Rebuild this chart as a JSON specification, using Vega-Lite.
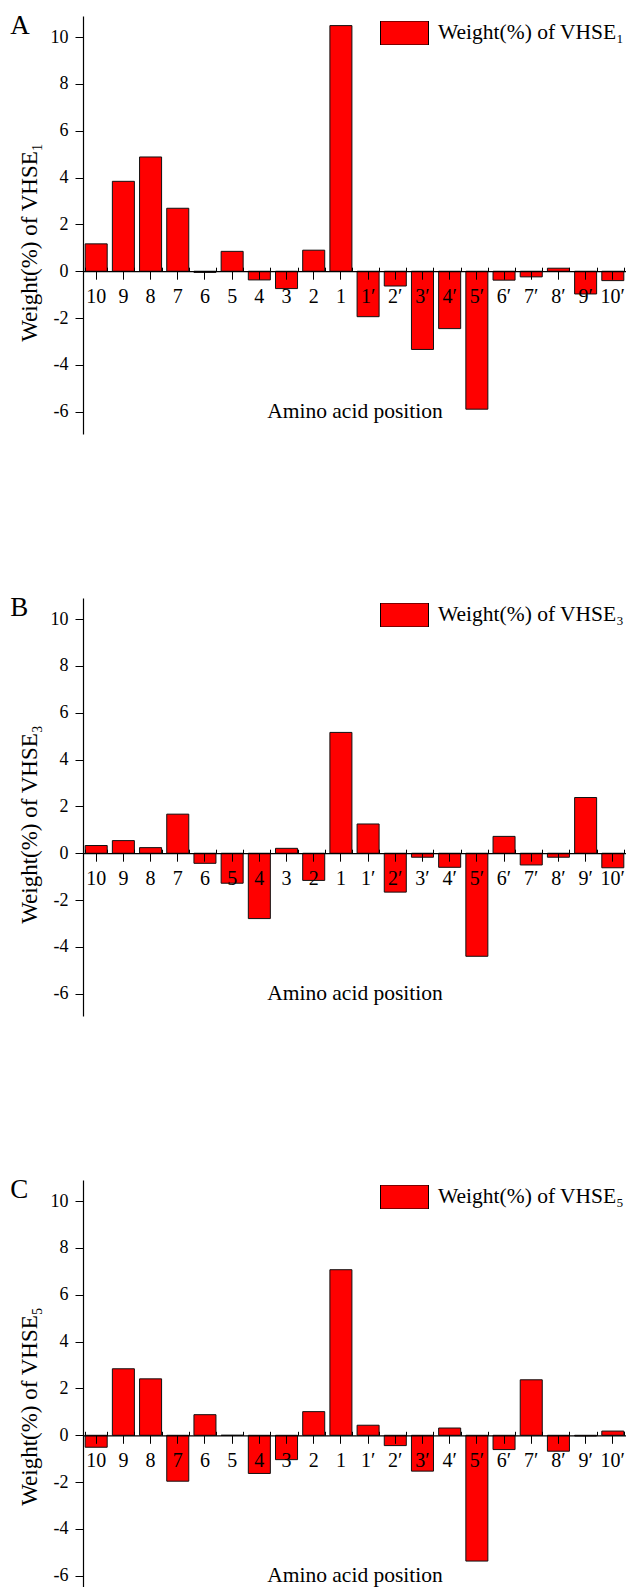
{
  "$schema": "https://vega.github.io/schema/vega-lite/v6.json",
  "background": "white",
  "padding": {"left": 10, "top": 12, "right": 0, "bottom": 0},
  "spacing": 160,
  "resolve": {"scale": {"color": "independent"}, "legend": {"color": "independent"}},
  "config": {"view": {"stroke": null}, "font": "Liberation Serif", "axis": {"grid": false}},
  "vconcat": [
    {
      "width": 543, "height": 418,
      "data": {"values": [
        {"pos": "10", "value": 1.17}, {"pos": "9", "value": 3.84}, {"pos": "8", "value": 4.88}, {"pos": "7", "value": 2.69},
        {"pos": "6", "value": -0.05}, {"pos": "5", "value": 0.85}, {"pos": "4", "value": -0.37}, {"pos": "3", "value": -0.74},
        {"pos": "2", "value": 0.9}, {"pos": "1", "value": 10.49}, {"pos": "1′", "value": -1.94}, {"pos": "2′", "value": -0.63},
        {"pos": "3′", "value": -3.34}, {"pos": "4′", "value": -2.45}, {"pos": "5′", "value": -5.89}, {"pos": "6′", "value": -0.38},
        {"pos": "7′", "value": -0.24}, {"pos": "8′", "value": 0.13}, {"pos": "9′", "value": -0.97}, {"pos": "10′", "value": -0.4}
      ]},
      "layer": [
        {
          "mark": {"type": "bar", "stroke": "#111", "strokeWidth": 1},
          "encoding": {
            "x": {"field": "pos", "type": "nominal", "sort": null,
              "scale": {"domain": ["10","9","8","7","6","5","4","3","2","1","1′","2′","3′","4′","5′","6′","7′","8′","9′","10′"], "paddingInner": 0.19, "paddingOuter": 0.08},
              "axis": {"orient": "bottom", "offset": -162.8, "title": "Amino acid position", "titleFont": "Liberation Serif", "titleFontSize": 21.5, "titleFontWeight": "normal", "titleColor": "#000", "titleBaseline": "alphabetic", "titleY": 146,
                "labelFont": "Liberation Serif", "labelFontSize": 20, "labelColor": "#000", "labelAngle": 0, "labelPadding": 7, "labelBaseline": "top",
                "tickSize": 8, "tickColor": "#000", "domainColor": "#000", "domainWidth": 1.2, "zindex": 1}},
            "y": {"field": "value", "type": "quantitative",
              "scale": {"domain": [-6.95, 10.9], "nice": false, "zero": false},
              "axis": {"values": [-6,-5,-4,-3,-2,-1,0,1,2,3,4,5,6,7,8,9,10], "labelExpr": "datum.value % 2 === 0 ? '' + datum.value : ''",
                "tickSize": {"condition": {"test": "datum.value % 2 !== 0", "value": 5}, "value": 8},
                "labelFont": "Liberation Serif", "labelFontSize": 18, "labelColor": "#000", "labelPadding": 7, "tickColor": "#000", "domainColor": "#000", "domainWidth": 1.2,
                "title": "Weight(%) of VHSE₁", "titleFont": "Liberation Serif", "titleFontSize": 23, "titleFontWeight": "normal", "titleColor": "#000", "titleX": -47, "titleY": 226, "titleBaseline": "alphabetic", "zindex": 1}},
            "color": {"datum": "Weight(%) of VHSE₁", "scale": {"range": ["#ff0000"]},
              "legend": {"orient": "none", "legendX": 297, "legendY": 5, "title": null, "symbolType": "M-1,-0.5L1,-0.5L1,0.5L-1,0.5Z", "symbolSize": 2304, "symbolStrokeColor": "#000", "symbolStrokeWidth": 1, "symbolOpacity": 1, "clipHeight": 24, "labelFont": "Liberation Serif", "labelFontSize": 21.5, "labelColor": "#000", "labelOffset": 9, "labelLimit": 400, "padding": 0}}
          }
        },
        {
          "mark": {"type": "bar", "opacity": 0},
          "encoding": {
            "x": {"field": "pos", "type": "nominal", "sort": null,
              "axis": {"orient": "bottom", "offset": -162.8, "title": null, "labels": false, "domain": false, "tickBand": "extent", "tickSize": -4, "tickColor": "#000", "zindex": 1}},
            "y": {"field": "value", "type": "quantitative"}
          }
        },
        {
          "data": {"values": [{"label": "A"}]},
          "mark": {"type": "text", "align": "left", "baseline": "top", "dx": -86, "dy": -3, "font": "Liberation Serif", "fontSize": 27, "fontWeight": "normal", "color": "#000"},
          "encoding": {
            "text": {"field": "label"},
            "x": {"datum": "10", "type": "nominal", "axis": null},
            "y": {"datum": 10.9, "type": "quantitative"}
          }
        }
      ],
      "resolve": {"axis": {"x": "independent"}}
    },
    {
      "width": 543, "height": 418,
      "data": {"values": [
        {"pos": "10", "value": 0.33}, {"pos": "9", "value": 0.54}, {"pos": "8", "value": 0.24}, {"pos": "7", "value": 1.67},
        {"pos": "6", "value": -0.43}, {"pos": "5", "value": -1.28}, {"pos": "4", "value": -2.79}, {"pos": "3", "value": 0.21},
        {"pos": "2", "value": -1.16}, {"pos": "1", "value": 5.16}, {"pos": "1′", "value": 1.25}, {"pos": "2′", "value": -1.66},
        {"pos": "3′", "value": -0.17}, {"pos": "4′", "value": -0.6}, {"pos": "5′", "value": -4.4}, {"pos": "6′", "value": 0.72},
        {"pos": "7′", "value": -0.5}, {"pos": "8′", "value": -0.17}, {"pos": "9′", "value": 2.38}, {"pos": "10′", "value": -0.62}
      ]},
      "layer": [
        {
          "mark": {"type": "bar", "stroke": "#111", "strokeWidth": 1},
          "encoding": {
            "x": {"field": "pos", "type": "nominal", "sort": null,
              "scale": {"domain": ["10","9","8","7","6","5","4","3","2","1","1′","2′","3′","4′","5′","6′","7′","8′","9′","10′"], "paddingInner": 0.19, "paddingOuter": 0.08},
              "axis": {"orient": "bottom", "offset": -162.8, "title": "Amino acid position", "titleFont": "Liberation Serif", "titleFontSize": 21.5, "titleFontWeight": "normal", "titleColor": "#000", "titleBaseline": "alphabetic", "titleY": 146,
                "labelFont": "Liberation Serif", "labelFontSize": 20, "labelColor": "#000", "labelAngle": 0, "labelPadding": 7, "labelBaseline": "top",
                "tickSize": 8, "tickColor": "#000", "domainColor": "#000", "domainWidth": 1.2, "zindex": 1}},
            "y": {"field": "value", "type": "quantitative",
              "scale": {"domain": [-6.95, 10.9], "nice": false, "zero": false},
              "axis": {"values": [-6,-5,-4,-3,-2,-1,0,1,2,3,4,5,6,7,8,9,10], "labelExpr": "datum.value % 2 === 0 ? '' + datum.value : ''",
                "tickSize": {"condition": {"test": "datum.value % 2 !== 0", "value": 5}, "value": 8},
                "labelFont": "Liberation Serif", "labelFontSize": 18, "labelColor": "#000", "labelPadding": 7, "tickColor": "#000", "domainColor": "#000", "domainWidth": 1.2,
                "title": "Weight(%) of VHSE₃", "titleFont": "Liberation Serif", "titleFontSize": 23, "titleFontWeight": "normal", "titleColor": "#000", "titleX": -47, "titleY": 226, "titleBaseline": "alphabetic", "zindex": 1}},
            "color": {"datum": "Weight(%) of VHSE₃", "scale": {"range": ["#ff0000"]},
              "legend": {"orient": "none", "legendX": 297, "legendY": 5, "title": null, "symbolType": "M-1,-0.5L1,-0.5L1,0.5L-1,0.5Z", "symbolSize": 2304, "symbolStrokeColor": "#000", "symbolStrokeWidth": 1, "symbolOpacity": 1, "clipHeight": 24, "labelFont": "Liberation Serif", "labelFontSize": 21.5, "labelColor": "#000", "labelOffset": 9, "labelLimit": 400, "padding": 0}}
          }
        },
        {
          "mark": {"type": "bar", "opacity": 0},
          "encoding": {
            "x": {"field": "pos", "type": "nominal", "sort": null,
              "axis": {"orient": "bottom", "offset": -162.8, "title": null, "labels": false, "domain": false, "tickBand": "extent", "tickSize": -4, "tickColor": "#000", "zindex": 1}},
            "y": {"field": "value", "type": "quantitative"}
          }
        },
        {
          "data": {"values": [{"label": "B"}]},
          "mark": {"type": "text", "align": "left", "baseline": "top", "dx": -86, "dy": -3, "font": "Liberation Serif", "fontSize": 27, "fontWeight": "normal", "color": "#000"},
          "encoding": {
            "text": {"field": "label"},
            "x": {"datum": "10", "type": "nominal", "axis": null},
            "y": {"datum": 10.9, "type": "quantitative"}
          }
        }
      ],
      "resolve": {"axis": {"x": "independent"}}
    },
    {
      "width": 543, "height": 408.7,
      "data": {"values": [
        {"pos": "10", "value": -0.51}, {"pos": "9", "value": 2.84}, {"pos": "8", "value": 2.41}, {"pos": "7", "value": -1.96},
        {"pos": "6", "value": 0.88}, {"pos": "5", "value": 0}, {"pos": "4", "value": -1.63}, {"pos": "3", "value": -1.04},
        {"pos": "2", "value": 1.01}, {"pos": "1", "value": 7.07}, {"pos": "1′", "value": 0.43}, {"pos": "2′", "value": -0.44},
        {"pos": "3′", "value": -1.53}, {"pos": "4′", "value": 0.31}, {"pos": "5′", "value": -5.37}, {"pos": "6′", "value": -0.61},
        {"pos": "7′", "value": 2.37}, {"pos": "8′", "value": -0.68}, {"pos": "9′", "value": -0.03}, {"pos": "10′", "value": 0.18}
      ]},
      "layer": [
        {
          "mark": {"type": "bar", "stroke": "#111", "strokeWidth": 1},
          "encoding": {
            "x": {"field": "pos", "type": "nominal", "sort": null,
              "scale": {"domain": ["10","9","8","7","6","5","4","3","2","1","1′","2′","3′","4′","5′","6′","7′","8′","9′","10′"], "paddingInner": 0.19, "paddingOuter": 0.08},
              "axis": {"orient": "bottom", "offset": -153.4, "title": "Amino acid position", "titleFont": "Liberation Serif", "titleFontSize": 21.5, "titleFontWeight": "normal", "titleColor": "#000", "titleBaseline": "alphabetic", "titleY": 146,
                "labelFont": "Liberation Serif", "labelFontSize": 20, "labelColor": "#000", "labelAngle": 0, "labelPadding": 7, "labelBaseline": "top",
                "tickSize": 8, "tickColor": "#000", "domainColor": "#000", "domainWidth": 1.2, "zindex": 1}},
            "y": {"field": "value", "type": "quantitative",
              "scale": {"domain": [-6.55, 10.9], "nice": false, "zero": false},
              "axis": {"values": [-6,-5,-4,-3,-2,-1,0,1,2,3,4,5,6,7,8,9,10], "labelExpr": "datum.value % 2 === 0 ? '' + datum.value : ''",
                "tickSize": {"condition": {"test": "datum.value % 2 !== 0", "value": 5}, "value": 8},
                "labelFont": "Liberation Serif", "labelFontSize": 18, "labelColor": "#000", "labelPadding": 7, "tickColor": "#000", "domainColor": "#000", "domainWidth": 1.2,
                "title": "Weight(%) of VHSE₅", "titleFont": "Liberation Serif", "titleFontSize": 23, "titleFontWeight": "normal", "titleColor": "#000", "titleX": -47, "titleY": 226, "titleBaseline": "alphabetic", "zindex": 1}},
            "color": {"datum": "Weight(%) of VHSE₅", "scale": {"range": ["#ff0000"]},
              "legend": {"orient": "none", "legendX": 297, "legendY": 5, "title": null, "symbolType": "M-1,-0.5L1,-0.5L1,0.5L-1,0.5Z", "symbolSize": 2304, "symbolStrokeColor": "#000", "symbolStrokeWidth": 1, "symbolOpacity": 1, "clipHeight": 24, "labelFont": "Liberation Serif", "labelFontSize": 21.5, "labelColor": "#000", "labelOffset": 9, "labelLimit": 400, "padding": 0}}
          }
        },
        {
          "mark": {"type": "bar", "opacity": 0},
          "encoding": {
            "x": {"field": "pos", "type": "nominal", "sort": null,
              "axis": {"orient": "bottom", "offset": -153.4, "title": null, "labels": false, "domain": false, "tickBand": "extent", "tickSize": -4, "tickColor": "#000", "zindex": 1}},
            "y": {"field": "value", "type": "quantitative"}
          }
        },
        {
          "data": {"values": [{"label": "C"}]},
          "mark": {"type": "text", "align": "left", "baseline": "top", "dx": -86, "dy": -3, "font": "Liberation Serif", "fontSize": 27, "fontWeight": "normal", "color": "#000"},
          "encoding": {
            "text": {"field": "label"},
            "x": {"datum": "10", "type": "nominal", "axis": null},
            "y": {"datum": 10.9, "type": "quantitative"}
          }
        }
      ],
      "resolve": {"axis": {"x": "independent"}}
    }
  ]
}
